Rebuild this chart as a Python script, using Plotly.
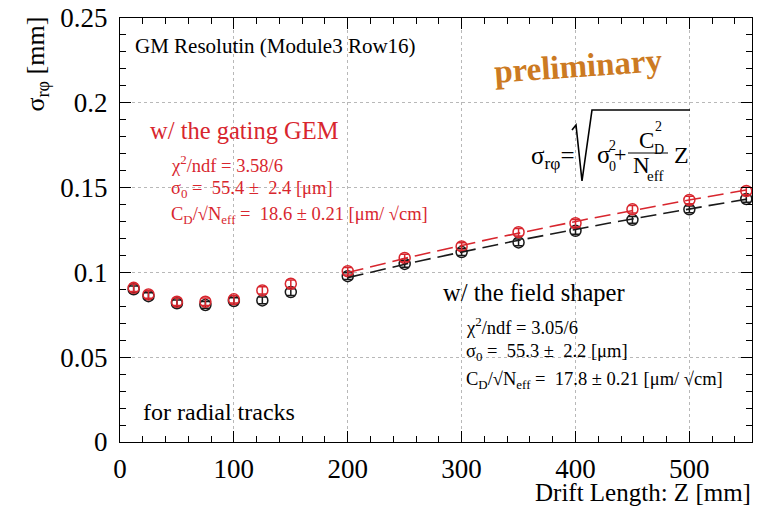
import numpy as np
import plotly.graph_objects as go

# ---- data ----
z_short = [12, 25, 50, 75, 100, 125, 150]
red_short = [0.0909, 0.0870, 0.0827, 0.0827, 0.0841, 0.0894, 0.0933]
black_short = [0.0900, 0.0860, 0.0818, 0.0808, 0.0831, 0.0835, 0.0884]

z_long = [200, 250, 300, 350, 400, 450, 500, 550]
red_long = [0.1007, 0.1085, 0.1153, 0.1237, 0.1290, 0.1372, 0.1427, 0.1480]
black_long = [0.0978, 0.1050, 0.1120, 0.1177, 0.1245, 0.1310, 0.1372, 0.1433]

err_red = [0.0022] * 15
err_black = [0.0020] * 15

# fit parameters as quoted on the chart (sigma0 [um], C_D/sqrt(Neff) [um/sqrt(cm)])
fit_red = (55.4, 18.6)
fit_black = (55.3, 17.8)
fit_range = (200, 555)

RED = "#d8262e"
BLACK = "#1a1a1a"
FONT = "Liberation Serif"

L, R, T, B = 120, 752, 18, 442
W, H = 761, 508


def px(x):
    return (x - L) / (R - L)


def py(y):
    return (B - y) / (B - T)


def fit_curve(params):
    s0, c = params
    zz = np.linspace(fit_range[0], fit_range[1], 60)
    return zz, np.sqrt(s0 ** 2 + c ** 2 * zz / 10.0) / 1000.0


fig = go.Figure()

for zs, ys, col, err in [(z_short + z_long, black_short + black_long, BLACK, err_black),
                          (z_short + z_long, red_short + red_long, RED, err_red)]:
    fig.add_trace(go.Scatter(
        x=zs, y=ys, mode="markers",
        marker=dict(symbol="circle-open", size=11, color=col, line=dict(width=1.5, color=col)),
        error_y=dict(type="data", array=err, color=col, thickness=1.5, width=4),
        showlegend=False, hoverinfo="skip"))

for params, col in [(fit_black, BLACK), (fit_red, RED)]:
    zz, yy = fit_curve(params)
    fig.add_trace(go.Scatter(x=zz, y=yy, mode="lines",
                             line=dict(color=col, width=1.6, dash="16px,7px"),
                             showlegend=False, hoverinfo="skip"))

axis_common = dict(
    showline=True, linecolor="black", linewidth=1.3, mirror="ticks",
    ticks="inside", ticklen=11, tickwidth=1.2, tickcolor="black",
    showgrid=True, gridcolor="#b8b8b8", gridwidth=1, griddash="dot",
    zeroline=False, automargin=False,
    tickfont=dict(family=FONT, size=27, color="black"),
)

fig.update_xaxes(range=[0, 555], tick0=0, dtick=100, ticklabelstandoff=2,
                 minor=dict(ticks="inside", dtick=20, ticklen=6, tickcolor="black", showgrid=False),
                 **axis_common)
fig.update_yaxes(range=[0, 0.25], tick0=0, dtick=0.05, tickformat="~g", ticklabelstandoff=6,
                 minor=dict(ticks="inside", dtick=0.01, ticklen=6, tickcolor="black", showgrid=False),
                 **axis_common)

ann = []


def text(x, y, s, size, color="black", xanchor="left", bold=False, angle=0):
    if bold:
        s = "<b>" + s + "</b>"
    ann.append(dict(x=px(x), y=py(y), xref="paper", yref="paper", text=s, showarrow=False,
                    xanchor=xanchor, yanchor="middle", textangle=angle,
                    font=dict(family=FONT, size=size, color=color)))


text(133, 46, "GM Resolutin (Module3 Row16)", 21)
text(578, 66, "preliminary", 33, color="#cc7a22", xanchor="center", bold=True, angle=-4)

# red block
text(148, 130, "w/ the gating GEM", 24.5, color=RED)
text(169, 164, "χ<sup>2</sup>/ndf = 3.58/6", 18.5, color=RED)
text(169, 189, "σ<sub>0</sub> =  55.4 ±  2.4 [μm]", 18.5, color=RED)
text(169, 216, "C<sub>D</sub>/√N<sub>eff</sub> =  18.6 ± 0.21 [μm/ √cm]", 18.5, color=RED)

# black block
text(441, 292, "w/ the field shaper", 24.5)
text(464, 326, "χ<sup>2</sup>/ndf = 3.05/6", 18.5)
text(464, 352, "σ<sub>0</sub> =  55.3 ±  2.2 [μm]", 18.5)
text(464, 380, "C<sub>D</sub>/√N<sub>eff</sub> =  17.8 ± 0.21 [μm/ √cm]", 18.5)

text(141, 412, "for radial tracks", 24)

# formula, built piece by piece
text(529, 157, "σ<sub>rφ</sub>=", 25)
text(595, 155, "σ", 25)
text(607, 145, "2", 14)
text(607, 167, "0", 14)
text(612, 155, "+", 22)
text(637, 140, "C", 23)
text(652, 149, "D", 14)
text(653, 127, "2", 14)
text(631, 165, "N", 23)
text(645, 176, "eff", 15)
text(672, 155, "Z", 24)

# axis titles
ann.append(dict(x=px(36), y=py(15), xref="paper", yref="paper",
                text="σ<sub>rφ</sub> [mm]", showarrow=False, textangle=-90,
                xanchor="center", yanchor="top", font=dict(family=FONT, size=26, color="black")))
ann.append(dict(x=px(753), y=py(492), xref="paper", yref="paper",
                text="Drift Length: Z [mm]", showarrow=False,
                xanchor="right", yanchor="middle", font=dict(family=FONT, size=25, color="black")))

shapes = [
    # radical sign
    dict(type="path", xref="paper", yref="paper",
         path=f"M {px(572)},{py(130)} L {px(576)},{py(125)} L {px(582)},{py(181)} L {px(592)},{py(110)} L {px(690)},{py(110)}",
         line=dict(color="black", width=1.6)),
    # fraction bar
    dict(type="line", xref="paper", yref="paper", x0=px(628), x1=px(668), y0=py(153), y1=py(153),
         line=dict(color="black", width=1.2)),
]

fig.update_layout(
    width=W, height=H,
    margin=dict(l=L, r=W - R, t=T, b=H - B),
    paper_bgcolor="white", plot_bgcolor="white",
    annotations=ann, shapes=shapes,
)

fig.write_html("out.html", config={"displayModeBar": False},
               post_script="document.body.style.margin='0';document.body.style.overflow='hidden';")
